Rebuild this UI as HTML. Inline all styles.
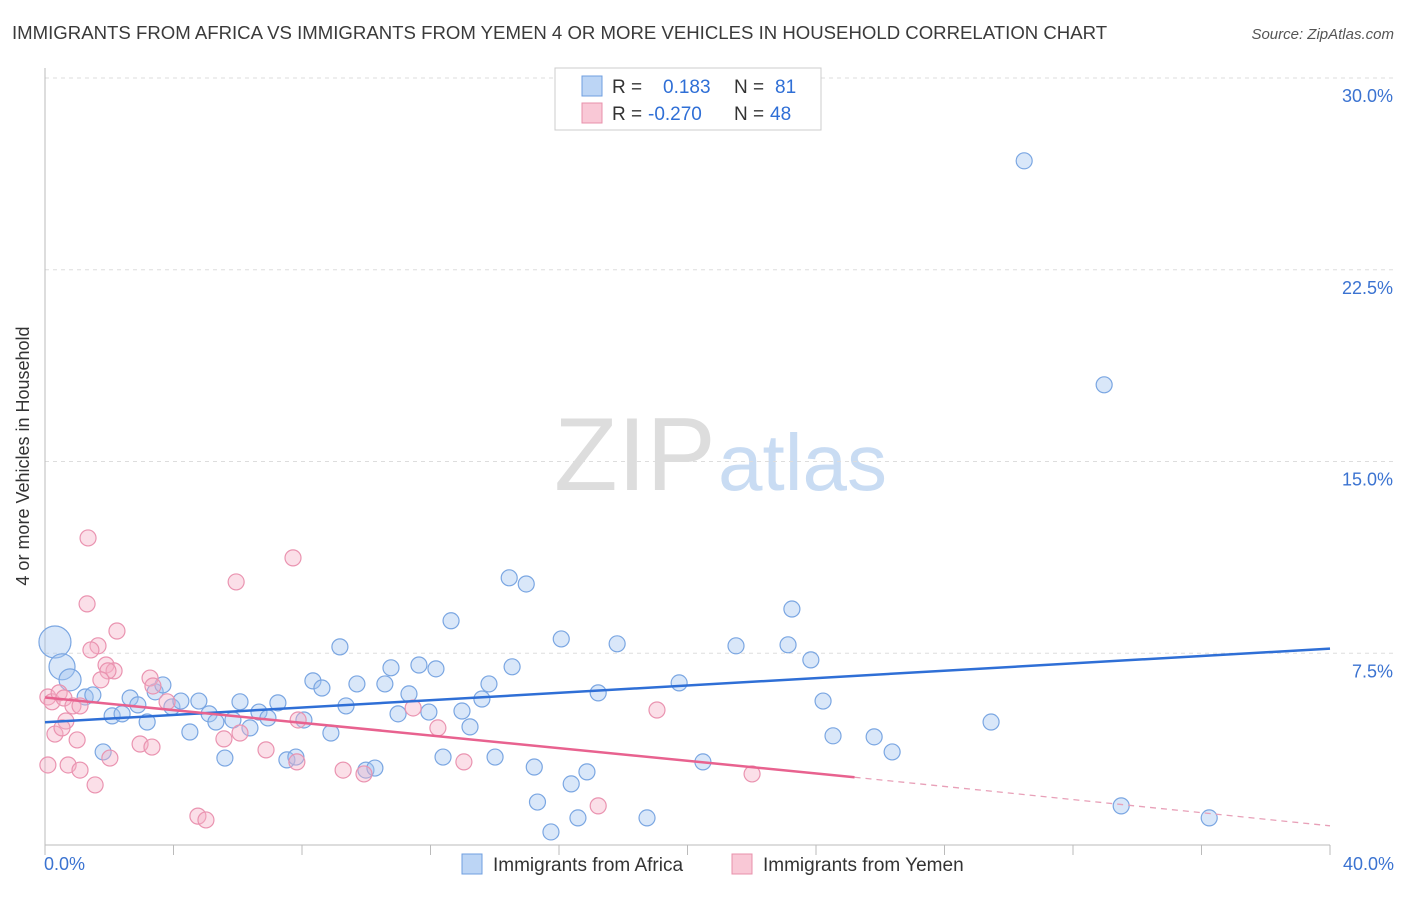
<!DOCTYPE html>
<html><head><meta charset="utf-8">
<style>
body{margin:0;background:#fff;font-family:"Liberation Sans",sans-serif;}
svg text{font-family:"Liberation Sans",sans-serif;}
</style></head>
<body>
<svg id="chart" width="1406" height="892">
<text x="12" y="39" font-size="18.6" fill="#3a3a3a">IMMIGRANTS FROM AFRICA VS IMMIGRANTS FROM YEMEN 4 OR MORE VEHICLES IN HOUSEHOLD CORRELATION CHART</text>
<text x="1394" y="39" font-size="15" fill="#555" font-style="italic" text-anchor="end">Source: ZipAtlas.com</text>
<text x="0" y="0" transform="translate(29,456) rotate(-90)" font-size="18" fill="#333" text-anchor="middle">4 or more Vehicles in Household</text>
<g>
<text x="554" y="490" font-size="104" fill="#ddd" font-family="Liberation Serif">ZIP</text>
<text x="718" y="490" font-size="80" fill="#c9dcf3">atlas</text>
</g>
<g id="grid"></g><g id="axes"></g><g id="pts"></g><g id="trends"></g>
<g>
<rect x="555" y="68" width="266" height="62" fill="#fff" stroke="#ccc"/>
<rect x="582" y="76" width="20" height="20" fill="#bcd5f5" stroke="#6f9fe0"/>
<rect x="582" y="103" width="20" height="20" fill="#f9c8d6" stroke="#e890ab"/>
<text x="612" y="93" font-size="19" fill="#333">R = <tspan x="663" fill="#2f6fd6">0.183</tspan><tspan x="734" fill="#333">N = </tspan><tspan x="775" fill="#2f6fd6">81</tspan></text>
<text x="612" y="120" font-size="19" fill="#333">R = <tspan x="648" fill="#2f6fd6">-0.270</tspan><tspan x="734" fill="#333">N = </tspan><tspan x="770" fill="#2f6fd6">48</tspan></text>
</g>
<g>
<rect x="462" y="854" width="20" height="20" fill="#bcd5f5" stroke="#6f9fe0"/>
<text x="493" y="871" font-size="19" fill="#333">Immigrants from Africa</text>
<rect x="732" y="854" width="20" height="20" fill="#f9c8d6" stroke="#e890ab"/>
<text x="763" y="871" font-size="19" fill="#333">Immigrants from Yemen</text>
</g>
</svg>
<script>
const yTicks=[7.5,15,22.5,30];
const yTickLabels=["7.5%","15.0%","22.5%","30.0%"];
const xTickLabels=["0.0%","40.0%"];
const africaX=[30.48,32.97,0.31,0.53,0.78,1.25,1.49,1.81,2.09,2.40,2.65,2.89,3.18,3.43,3.67,3.95,4.23,4.51,4.79,5.11,5.32,5.60,5.85,6.07,6.38,6.66,6.94,7.25,7.53,7.81,8.06,8.34,8.62,8.90,9.18,9.37,9.71,9.99,10.27,10.58,10.77,10.99,11.33,11.64,11.95,12.17,12.39,12.64,12.98,13.23,13.60,13.82,14.01,14.45,14.54,14.98,15.23,15.33,15.75,16.07,16.38,16.59,16.87,17.22,17.81,18.74,19.74,20.48,21.51,23.13,23.25,23.84,24.22,24.53,25.81,26.37,29.45,33.50,36.24];
const africaY=[26.76,18.00,7.94,6.97,6.46,5.79,5.87,3.64,5.05,5.13,5.75,5.48,4.81,5.99,6.26,5.40,5.63,4.42,5.63,5.13,4.81,3.40,4.89,5.60,4.58,5.20,4.97,5.56,3.33,3.44,4.89,6.42,6.14,4.38,7.75,5.44,6.30,2.93,3.01,6.30,6.93,5.13,5.91,7.04,5.20,6.89,3.44,8.77,5.24,4.62,5.71,6.30,3.44,10.45,6.97,10.21,3.05,1.68,0.51,8.06,2.39,1.06,2.86,5.95,7.87,1.06,6.34,3.25,7.79,7.83,9.23,7.24,5.63,4.27,4.23,3.64,4.81,1.53,1.06];
const yemenX=[1.34,1.31,2.24,1.65,1.43,1.90,2.15,1.96,1.74,0.09,0.22,0.44,0.59,0.87,1.09,0.65,0.31,0.53,1.00,0.09,0.72,1.09,1.56,2.02,2.96,3.33,3.27,3.36,3.80,5.95,7.72,5.57,6.07,6.88,7.84,7.88,9.28,9.93,11.46,12.23,13.04,17.22,19.05,22.01,4.76,5.01];
const yemenY=[12.01,9.43,8.37,7.79,7.63,7.04,6.81,6.81,6.46,5.79,5.60,5.95,5.75,5.44,5.44,4.85,4.34,4.58,4.11,3.13,3.13,2.93,2.35,3.40,3.95,3.83,6.53,6.22,5.60,10.29,11.23,4.15,4.38,3.72,3.25,4.89,2.93,2.78,5.36,4.58,3.25,1.53,5.28,2.78,1.13,0.98];
const africaTrend=[[0,4.80],[40,7.68]];
const yemenTrend=[[0,5.77],[25.2,2.65],[40,0.75]];
const X0=45,X1=1330,Y0=845,YT=78;
const sx=v=>X0+(X1-X0)*v/40;
const sy=v=>Y0-(Y0-YT)*v/30;
const NS="http://www.w3.org/2000/svg";
function mk(tag,attrs,parent){const e=document.createElementNS(NS,tag);for(const k in attrs)e.setAttribute(k,attrs[k]);parent.appendChild(e);return e;}
const grid=document.getElementById('grid'),axes=document.getElementById('axes');
yTicks.forEach((t,i)=>{
 const l=mk('line',{x1:X0,x2:1394,y1:sy(t),y2:sy(t),stroke:'#ddd','stroke-dasharray':'4,4'},grid);
 
 
 const tx=mk('text',{x:1393,y:sy(t)+24,'font-size':18,fill:'#3b73d1','text-anchor':'end'},axes);
 tx.textContent=yTickLabels[i];
 
 
});
const ax=mk('line',{x1:X0,x2:X1,y1:Y0,y2:Y0,stroke:'#bbb'},axes);


const ay=mk('line',{x1:X0,x2:X0,y1:68,y2:Y0,stroke:'#bbb'},axes);


for(let i=0;i<=10;i++){
 const t=mk('line',{x1:sx(i*4),x2:sx(i*4),y1:Y0,y2:Y0+10,stroke:'#bbb'},axes);
 
 
}
[[0,'start',44],[40,'end',1394]].forEach((d,i)=>{
 const tx=mk('text',{x:d[2],y:870,'font-size':18,fill:'#3b73d1','text-anchor':d[1]},axes);
 tx.textContent=xTickLabels[i];
 
 
});
const pts=document.getElementById('pts');
const bigR={2:16,3:13,4:11};
africaX.forEach((v,i)=>{
 const c=mk('circle',{cx:sx(v),cy:sy(africaY[i]),r:bigR[i]||8,fill:'rgba(160,195,240,0.4)',stroke:'#7aa6e2','stroke-width':1.2},pts);
 
 
});
yemenX.forEach((v,i)=>{
 const c=mk('circle',{cx:sx(v),cy:sy(yemenY[i]),r:8,fill:'rgba(246,176,198,0.4)',stroke:'#ea93b0','stroke-width':1.2},pts);
 
 
});
const tr=document.getElementById('trends');
const b=mk('line',{x1:sx(africaTrend[0][0]),y1:sy(africaTrend[0][1]),x2:sx(africaTrend[1][0]),y2:sy(africaTrend[1][1]),stroke:'#2f6fd6','stroke-width':2.5},tr);


const p1=mk('line',{x1:sx(yemenTrend[0][0]),y1:sy(yemenTrend[0][1]),x2:sx(yemenTrend[1][0]),y2:sy(yemenTrend[1][1]),stroke:'#e8628f','stroke-width':2.5},tr);


const p2=mk('line',{x1:sx(yemenTrend[1][0]),y1:sy(yemenTrend[1][1]),x2:sx(yemenTrend[2][0]),y2:sy(yemenTrend[2][1]),stroke:'#e8a0b8','stroke-width':1.3,'stroke-dasharray':'6,5'},tr);


</script>
</body></html>
